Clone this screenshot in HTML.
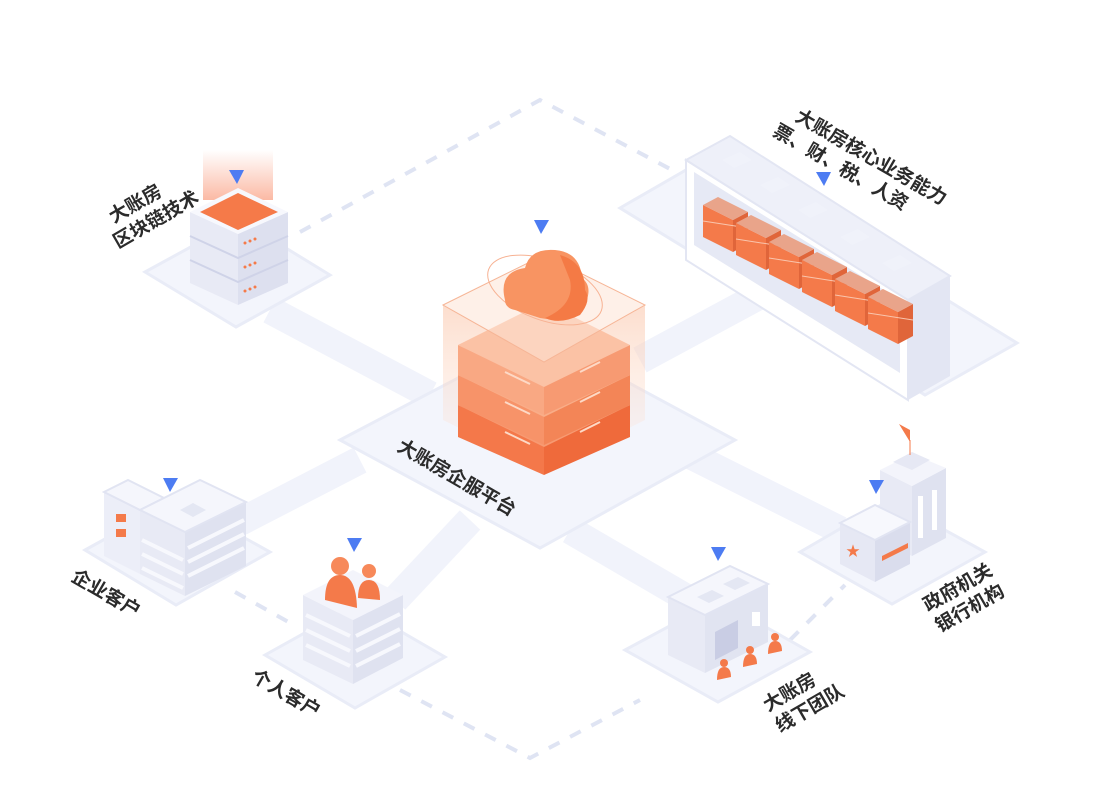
<!DOCTYPE html>
<html><head><meta charset="utf-8"><style>
html,body{margin:0;padding:0;background:#fff;}
svg{display:block;}
text{font-family:"Liberation Sans","Noto Sans CJK SC",sans-serif;font-weight:bold;fill:#2b2b2b;font-size:19px;}
</style></head><body>
<svg width="1117" height="788" viewBox="0 0 1117 788" xmlns="http://www.w3.org/2000/svg">
<defs>
<linearGradient id="glow" x1="0" y1="1" x2="0" y2="0"><stop offset="0" stop-color="#f7744a" stop-opacity="0.5"/><stop offset="1" stop-color="#f7744a" stop-opacity="0"/></linearGradient>
<linearGradient id="glass" x1="0" y1="0" x2="0" y2="1"><stop offset="0" stop-color="#fbc8ad" stop-opacity="0.6"/><stop offset="1" stop-color="#fde6da" stop-opacity="0.15"/></linearGradient>
</defs>

<g stroke="#dfe4f3" stroke-width="4" stroke-dasharray="12 12" fill="none">
<polyline points="300,232 540,100 672,170"/>
<line x1="235" y1="592" x2="292" y2="624"/>
<polyline points="400,690 530,758 640,700"/>
<line x1="790" y1="640" x2="845" y2="585"/>
</g>

<g stroke="#f1f3fb" stroke-width="28" fill="none">
<line x1="270" y1="310" x2="430" y2="395"/>
<line x1="640" y1="360" x2="770" y2="290"/>
<line x1="360" y1="460" x2="240" y2="522"/>
<line x1="470" y1="520" x2="395" y2="600"/>
<line x1="570" y1="530" x2="690" y2="600"/>
<line x1="690" y1="455" x2="840" y2="530"/>
</g>

<g fill="#f3f5fc" stroke="#e9ecf7" stroke-width="3">
<polygon points="340,440 540,335 735,440 540,548"/>
<polygon points="145,272 240,220 330,275 236,327"/>
<polygon points="620,208 712,155 1017,343 925,395"/>
<polygon points="85,550 176,500 270,552 176,605"/>
<polygon points="265,655 355,605 445,657 355,708"/>
<polygon points="625,650 718,600 810,652 718,702"/>
<polygon points="800,552 890,500 985,552 892,604"/>
</g>

<rect x="203" y="150" width="70" height="50" fill="url(#glow)"/>
<g>
<polygon points="190,212 190,283 238,305 238,234" fill="#e8eaf5"/>
<polygon points="238,234 238,305 288,283 288,212" fill="#dde0ef"/>
<polyline points="190,236 238,258 288,236" fill="none" stroke="#cfd3e8" stroke-width="2"/>
<polyline points="190,260 238,282 288,260" fill="none" stroke="#cfd3e8" stroke-width="2"/>
<polygon points="190,212 238,188 288,212 238,234" fill="#f7f8fd"/>
<polygon points="200,212 238,193 278,212 238,230" fill="#f57a49"/>
<g fill="#f57a49"><circle cx="245" cy="243" r="1.5"/><circle cx="250" cy="241" r="1.5"/><circle cx="255" cy="239" r="1.5"/>
<circle cx="245" cy="267" r="1.5"/><circle cx="250" cy="265" r="1.5"/><circle cx="255" cy="263" r="1.5"/>
<circle cx="245" cy="291" r="1.5"/><circle cx="250" cy="289" r="1.5"/><circle cx="255" cy="287" r="1.5"/></g>
</g>
<polygon points="229,170 244,170 237,184" fill="#4d7cf2"/>

<g>
<polygon points="686,160 686,260 908,400 908,300" fill="#ffffff" stroke="#e3e6f3" stroke-width="2"/>
<polygon points="908,300 908,400 950,376 950,276" fill="#e3e6f3"/>
<polygon points="686,160 730,136 950,276 908,300" fill="#eef0f9" stroke="#e3e6f3" stroke-width="2"/>
<polygon points="694,172 694,245 900,373 900,300" fill="#e6e9f5"/>
<g fill="#f0f2fa">
<polygon points="722,160 740,152 752,160 734,168"/>
<polygon points="760,185 778,177 790,185 772,193"/>
<polygon points="798,210 816,202 828,210 810,218"/>
<polygon points="840,237 858,229 870,237 852,245"/>
<polygon points="882,263 900,255 912,263 894,271"/>
</g>
<g>
<g id="bx"><polygon points="703,205 703,237 733,252 733,220" fill="#f47a4a"/><polygon points="733,220 733,252 748,244 748,212" fill="#e0653a"/><polygon points="703,205 718,197 748,212 733,220" fill="#e9a48a"/><line x1="703" y1="221" x2="748" y2="228" stroke="#f9c5ad" stroke-width="1"/></g>
<use href="#bx" transform="translate(33,18)"/>
<use href="#bx" transform="translate(66,37)"/>
<use href="#bx" transform="translate(99,55)"/>
<use href="#bx" transform="translate(132,74)"/>
<use href="#bx" transform="translate(165,92)"/>
</g>
</g>
<polygon points="816,172 831,172 824,186" fill="#4d7cf2"/>

<polygon points="443,305 443,420 544,470 544,362" fill="url(#glass)"/>
<polygon points="544,362 544,470 645,420 645,305" fill="url(#glass)"/>
<g>
<polygon points="458,405 458,437 544,475 544,443" fill="#f4784a"/>
<polygon points="544,443 544,475 630,437 630,405" fill="#ef6a3b"/>
<polygon points="458,405 544,362 630,405 544,447" fill="#f79a72"/>
<polygon points="458,375 458,405 544,445 544,415" fill="#f79369"/>
<polygon points="544,415 544,445 630,405 630,375" fill="#f38557"/>
<polygon points="458,375 544,332 630,375 544,417" fill="#f9ad88"/>
<polygon points="458,345 458,375 544,415 544,385" fill="#f9a883"/>
<polygon points="544,385 544,415 630,375 630,345" fill="#f79a72"/>
<polygon points="458,345 544,302 630,345 544,387" fill="#fbc2a5"/>
<g stroke="#fdd9c6" stroke-width="2"><line x1="505" y1="372" x2="530" y2="384"/><line x1="505" y1="402" x2="530" y2="414"/><line x1="505" y1="432" x2="530" y2="444"/>
<line x1="580" y1="372" x2="600" y2="362"/><line x1="580" y1="402" x2="600" y2="392"/><line x1="580" y1="432" x2="600" y2="422"/></g>
</g>
<polygon points="443,305 544,255 645,305 544,362" fill="#fde3d5" fill-opacity="0.55" stroke="#f6b596" stroke-width="1"/>
<ellipse cx="545" cy="290" rx="60" ry="30" fill="none" stroke="#f7b293" stroke-width="1" transform="rotate(20 545 290)"/>
<path d="M505,300 Q498,272 525,268 Q530,248 555,250 Q580,252 582,278 Q595,288 582,310 Q560,322 540,318 L515,310 Q505,308 505,300 Z" fill="#f89462"/>
<path d="M560,255 Q585,262 585,290 Q592,300 580,315 Q560,325 545,318 Q575,305 570,280 Z" fill="#f47a45"/>
<polygon points="534,220 549,220 541,234" fill="#4d7cf2"/>

<g>
<polygon points="104,492 104,556 140,574 140,510" fill="#eceef8"/>
<polygon points="104,492 128,480 164,498 140,510" fill="#f5f6fc" stroke="#e1e4f2" stroke-width="2"/>
<polygon points="140,510 140,574 185,596 185,532" fill="#e8eaf5"/>
<polygon points="185,532 185,596 246,566 246,502" fill="#dfe2f0"/>
<polygon points="140,510 200,480 246,502 185,532" fill="#f5f6fc" stroke="#e1e4f2" stroke-width="2"/>
<polygon points="180,510 193,503 206,510 193,517" fill="#e4e7f3"/>
<g stroke="#f7f8fd" stroke-width="4"><line x1="142" y1="540" x2="183" y2="560"/><line x1="142" y1="554" x2="183" y2="574"/><line x1="142" y1="568" x2="183" y2="588"/>
<line x1="188" y1="548" x2="244" y2="520"/><line x1="188" y1="562" x2="244" y2="534"/><line x1="188" y1="576" x2="244" y2="548"/></g>
<rect x="116" y="514" width="10" height="8" fill="#f47a4a"/><rect x="116" y="529" width="10" height="8" fill="#f47a4a"/>
</g>
<polygon points="163,478 178,478 170,492" fill="#4d7cf2"/>

<g>
<polygon points="303,595 303,660 353,684 353,620" fill="#e8eaf5"/>
<polygon points="353,620 353,684 403,658 403,595" fill="#dfe2f0"/>
<polygon points="303,595 353,570 403,595 353,620" fill="#f3f4fb"/>
<g stroke="#f7f8fd" stroke-width="4"><line x1="306" y1="615" x2="350" y2="636"/><line x1="306" y1="630" x2="350" y2="651"/><line x1="306" y1="645" x2="350" y2="666"/>
<line x1="356" y1="636" x2="400" y2="614"/><line x1="356" y1="651" x2="400" y2="629"/><line x1="356" y1="666" x2="400" y2="644"/></g>
<circle cx="340" cy="566" r="9" fill="#f7895a"/><path d="M325,600 Q325,575 340,575 Q356,575 357,608 Z" fill="#f47a4a"/>
<circle cx="369" cy="571" r="7" fill="#f7895a"/><path d="M358,598 Q358,580 369,580 Q380,580 380,600 Z" fill="#f47a4a"/>
</g>
<polygon points="347,538 362,538 354,552" fill="#4d7cf2"/>

<g>
<polygon points="668,597 668,655 705,673 705,615" fill="#e8eaf5"/>
<polygon points="705,615 705,673 768,642 768,584" fill="#e1e4f1"/>
<polygon points="668,597 730,566 768,584 705,615" fill="#f5f6fc" stroke="#e1e4f2" stroke-width="2"/>
<polygon points="697,597 712,590 724,596 709,603" fill="#e4e7f3"/><polygon points="723,584 738,577 750,583 735,590" fill="#e4e7f3"/>
<polygon points="715,632 738,620 738,648 715,660" fill="#c9cde4"/>
<rect x="752" y="612" width="8" height="14" fill="#fff"/>
<g fill="#f47a4a"><circle cx="724" cy="663" r="4"/><path d="M717,680 Q717,667 724,667 Q731,667 731,677 Z"/>
<circle cx="750" cy="650" r="4"/><path d="M743,667 Q743,654 750,654 Q757,654 757,664 Z"/>
<circle cx="775" cy="637" r="4"/><path d="M768,654 Q768,641 775,641 Q782,641 782,651 Z"/></g>
</g>
<polygon points="711,547 726,547 718,561" fill="#4d7cf2"/>

<g>
<polygon points="880,470 880,540 912,556 912,486" fill="#e8eaf5"/>
<polygon points="912,486 912,556 946,538 946,468" fill="#dfe2f0"/>
<polygon points="880,470 912,454 946,468 912,486" fill="#f3f4fb"/>
<polygon points="893,462 912,452 930,460 912,470" fill="#e6e8f4"/>
<rect x="918" y="496" width="5" height="42" fill="#fff"/><rect x="932" y="490" width="5" height="40" fill="#fff"/>
<polygon points="840,523 840,564 875,582 875,540" fill="#e6e8f4"/>
<polygon points="875,540 875,582 910,564 910,522" fill="#dadded"/>
<polygon points="840,523 875,505 910,522 875,540" fill="#f7f8fd" stroke="#e1e4f2" stroke-width="2"/>
<polygon points="882,556 908,543 908,548 882,561" fill="#f47a4a"/>
<text x="846" y="556" style="fill:#f47a4a;font-size:14px">★</text>
<line x1="910" y1="440" x2="910" y2="455" stroke="#f47a4a" stroke-width="1"/><polygon points="899,424 910,430 910,442" fill="#f47a4a"/>
</g>
<polygon points="869,480 884,480 876,494" fill="#4d7cf2"/>

<g transform="translate(106,228) rotate(-30)"><text x="9" y="0">大账房</text><text x="0" y="24">区块链技术</text></g>
<g transform="translate(794,120) rotate(30)"><text x="0" y="0">大账房核心业务能力</text><text x="-12" y="24">票、财、税、人资</text></g>
<text transform="translate(396,450) rotate(30)">大账房企服平台</text>
<text transform="translate(70,580) rotate(30)">企业客户</text>
<text transform="translate(250,680) rotate(30)">个人客户</text>
<g transform="translate(768,712) rotate(-30)"><text x="0" y="0">大账房</text><text x="0" y="24">线下团队</text></g>
<g transform="translate(928,612) rotate(-30)"><text x="0" y="0">政府机关</text><text x="0" y="24">银行机构</text></g>
</svg>
</body></html>
